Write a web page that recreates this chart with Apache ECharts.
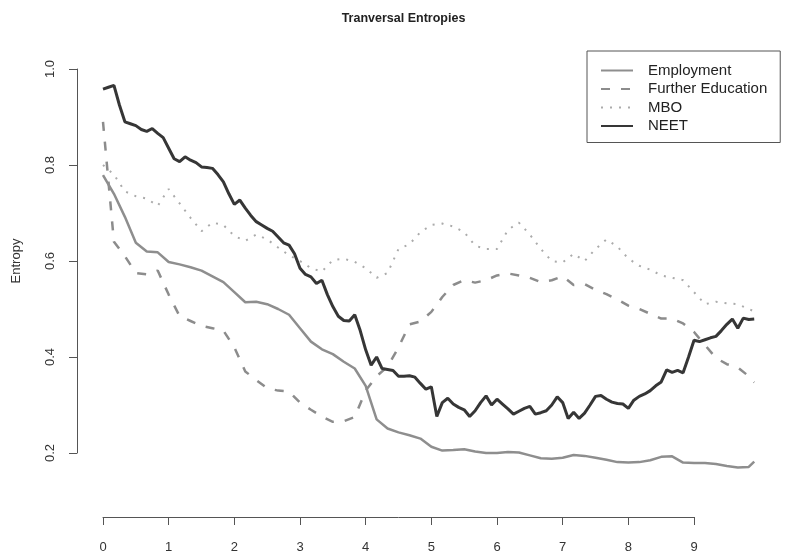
<!DOCTYPE html>
<html>
<head>
<meta charset="utf-8">
<title>Tranversal Entropies</title>
<script src="https://cdn.jsdelivr.net/npm/echarts@6/dist/echarts.min.js"></script>
<style>
  html, body { margin: 0; padding: 0; background: #ffffff; }
  #chart { width: 807px; height: 558px; }
</style>
</head>
<body>
<div id="chart"></div>
<script>
// Month index of each observation (x axis is in years = month / 12)
const monthsFine = Array.from({ length: 120 }, (_, i) => i);
const monthsCoarse = Array.from({ length: 60 }, (_, i) => i * 2).concat([119]);

const seriesNames = ['Employment', 'Further Education', 'MBO', 'NEET'];
const yTicks = [0.2, 0.4, 0.6, 0.8, 1.0];
const xTicks = [0, 1, 2, 3, 4, 5, 6, 7, 8, 9];

// Entropy per state, sampled every two months (last value = month 119)
const employment = [
  0.779, 0.740, 0.692, 0.638, 0.620, 0.618, 0.598, 0.593, 0.587, 0.580,
  0.568, 0.556, 0.535, 0.514, 0.515, 0.510, 0.500, 0.488, 0.460, 0.432,
  0.416, 0.406, 0.390, 0.376, 0.340, 0.270, 0.251, 0.243, 0.237, 0.230,
  0.213, 0.205, 0.206, 0.208, 0.203, 0.200, 0.200, 0.202, 0.201, 0.195,
  0.189, 0.188, 0.190, 0.196, 0.194, 0.190, 0.186, 0.181, 0.180, 0.181,
  0.185, 0.192, 0.193, 0.180, 0.179, 0.179, 0.177, 0.173, 0.170, 0.171,
  0.182
];

const furtherEducation = [
  0.890, 0.640, 0.610, 0.575, 0.572, 0.580, 0.530, 0.485, 0.475, 0.465,
  0.460, 0.455, 0.420, 0.370, 0.352, 0.335, 0.330, 0.328, 0.305, 0.290,
  0.276, 0.265, 0.266, 0.275, 0.330, 0.360, 0.380, 0.420, 0.468, 0.474,
  0.494, 0.525, 0.550, 0.560, 0.555, 0.560, 0.570, 0.574, 0.570, 0.565,
  0.556, 0.560, 0.568, 0.550, 0.552, 0.540, 0.531, 0.520, 0.507, 0.500,
  0.490, 0.480, 0.480, 0.470, 0.452, 0.425, 0.398, 0.385, 0.378, 0.360,
  0.347
];

const mbo = [
  0.800, 0.780, 0.745, 0.735, 0.730, 0.715, 0.750, 0.720, 0.690, 0.662,
  0.680, 0.675, 0.652, 0.642, 0.655, 0.645, 0.628, 0.612, 0.600, 0.585,
  0.578, 0.602, 0.605, 0.598, 0.585, 0.565, 0.575, 0.625, 0.635, 0.660,
  0.675, 0.678, 0.672, 0.660, 0.632, 0.625, 0.625, 0.665, 0.680, 0.655,
  0.625, 0.600, 0.597, 0.615, 0.600, 0.625, 0.645, 0.630, 0.605, 0.590,
  0.582, 0.570, 0.565, 0.560, 0.535, 0.510, 0.515, 0.512, 0.510, 0.500,
  0.495
];

// NEET entropy, monthly
const neet = [
  0.958, 0.962, 0.966, 0.925, 0.890, 0.886, 0.882, 0.874, 0.870, 0.876,
  0.866, 0.857, 0.835, 0.813, 0.807, 0.817, 0.810, 0.805, 0.796, 0.795,
  0.793, 0.780, 0.765, 0.740, 0.718, 0.727, 0.710, 0.695, 0.682, 0.675,
  0.668, 0.662, 0.650, 0.638, 0.633, 0.615, 0.585, 0.572, 0.567, 0.553,
  0.560, 0.530, 0.505, 0.485, 0.476, 0.475, 0.488, 0.455, 0.415, 0.383,
  0.400, 0.376, 0.374, 0.372, 0.360, 0.360, 0.361, 0.358, 0.345, 0.333,
  0.338, 0.276, 0.305, 0.314, 0.302, 0.295, 0.290, 0.276, 0.288, 0.305,
  0.319, 0.300, 0.312, 0.302, 0.292, 0.281, 0.287, 0.293, 0.297, 0.281,
  0.284, 0.288, 0.300, 0.317, 0.305, 0.272, 0.285, 0.272, 0.283, 0.300,
  0.318, 0.320, 0.312, 0.306, 0.303, 0.302, 0.293, 0.310, 0.318, 0.323,
  0.330, 0.340, 0.348, 0.373, 0.368, 0.372, 0.367, 0.400, 0.435, 0.432,
  0.436, 0.440, 0.443, 0.455, 0.468, 0.479, 0.460, 0.481, 0.478, 0.479
];

function toPoints(months, values) {
  return values.map((v, i) => [months[i] / 12, v]);
}

const FONT = '"Liberation Sans", Arial, Helvetica, sans-serif';
const AXIS_COLOR = '#555';
const chart = echarts.init(document.getElementById('chart'), null, { renderer: 'canvas' });

// Plot region: one year = 65.67 px, entropy 0.2..1.0 spans 384 px
const PLOT_LEFT = 103;
const YEAR_PX = 65.67;
const PLOT_TOP = 69;
const PLOT_HEIGHT = 384;

const lineBase = {
  type: 'line',
  xAxisIndex: 0,
  yAxisIndex: 0,
  showSymbol: false,
  symbol: 'none',
  clip: false,
  animation: false,
  smooth: false
};

chart.setOption({
  backgroundColor: '#ffffff',
  animation: false,
  title: {
    text: 'Tranversal Entropies',
    left: 'center',
    top: 7,
    textStyle: { fontFamily: FONT, fontSize: 12.5, fontWeight: 'bold', color: '#222' }
  },
  legend: {
    left: 587,
    top: 51,
    orient: 'vertical',
    itemWidth: 32,
    itemHeight: 17,
    itemGap: 1.5,
    padding: [11, 13, 8, 13],
    borderColor: '#555',
    borderWidth: 1,
    borderRadius: 0,
    data: seriesNames,
    itemStyle: { opacity: 0, color: 'transparent', borderColor: 'transparent', borderWidth: 0 },
    textStyle: { fontFamily: FONT, fontSize: 15, lineHeight: 17, color: '#222', padding: [0, 0, 0, 10] }
  },
  grid: [
    // data area: 0..10 years
    { left: PLOT_LEFT, top: PLOT_TOP, width: YEAR_PX * 10, height: PLOT_HEIGHT, outerBoundsMode: 'none', containLabel: false },
    // axis area: 0..9 years
    { left: PLOT_LEFT, top: PLOT_TOP, width: YEAR_PX * 9, height: PLOT_HEIGHT, outerBoundsMode: 'none', containLabel: false }
  ],
  xAxis: [
    {
      type: 'value', gridIndex: 0, min: 0, max: 10,
      show: false
    },
    {
      type: 'value', gridIndex: 1, min: 0, max: 9, interval: 1,
      offset: 64,
      axisLine: { show: true, onZero: false, lineStyle: { color: AXIS_COLOR, width: 1 } },
      axisTick: { show: true, length: 8, inside: false, lineStyle: { color: AXIS_COLOR } },
      axisLabel: {
        margin: 24,
        fontFamily: FONT,
        fontSize: 13,
        color: '#333',
        formatter: (v) => (xTicks.indexOf(v) >= 0 ? String(v) : '')
      },
      splitLine: { show: false }
    }
  ],
  yAxis: [
    {
      type: 'value', gridIndex: 0, min: 0.2, max: 1.0, interval: 0.2,
      offset: 26,
      name: 'Entropy',
      nameLocation: 'middle',
      nameGap: 54,
      nameTextStyle: { fontFamily: FONT, fontSize: 13, color: '#333' },
      axisLine: { show: true, onZero: false, lineStyle: { color: AXIS_COLOR, width: 1 } },
      axisTick: { show: true, length: 8, inside: false, lineStyle: { color: AXIS_COLOR } },
      axisLabel: {
        rotate: 90,
        margin: 20,
        fontFamily: FONT,
        fontSize: 13,
        color: '#333',
        formatter: (v) => {
          const t = yTicks.find((k) => Math.abs(k - v) < 1e-9);
          return t === undefined ? '' : t.toFixed(1);
        }
      },
      splitLine: { show: false }
    },
    {
      type: 'value', gridIndex: 1, min: 0.2, max: 1.0,
      show: false
    }
  ],
  series: [
    Object.assign({}, lineBase, {
      name: 'Employment',
      data: toPoints(monthsCoarse, employment),
      lineStyle: { color: '#8e8e8e', width: 2.5, type: 'solid' },
      itemStyle: { color: '#8e8e8e' },
      z: 3
    }),
    Object.assign({}, lineBase, {
      name: 'Further Education',
      data: toPoints(monthsCoarse, furtherEducation),
      lineStyle: { color: '#8c8c8c', width: 2.5, type: [9, 11] },
      itemStyle: { color: '#8c8c8c' },
      z: 2
    }),
    Object.assign({}, lineBase, {
      name: 'MBO',
      data: toPoints(monthsCoarse, mbo),
      lineStyle: { color: '#ababab', width: 2, type: [2, 7] },
      itemStyle: { color: '#ababab' },
      z: 1
    }),
    Object.assign({}, lineBase, {
      name: 'NEET',
      data: toPoints(monthsFine, neet),
      lineStyle: { color: '#363636', width: 3, type: 'solid' },
      itemStyle: { color: '#363636' },
      z: 4
    })
  ]
});
</script>
</body>
</html>
